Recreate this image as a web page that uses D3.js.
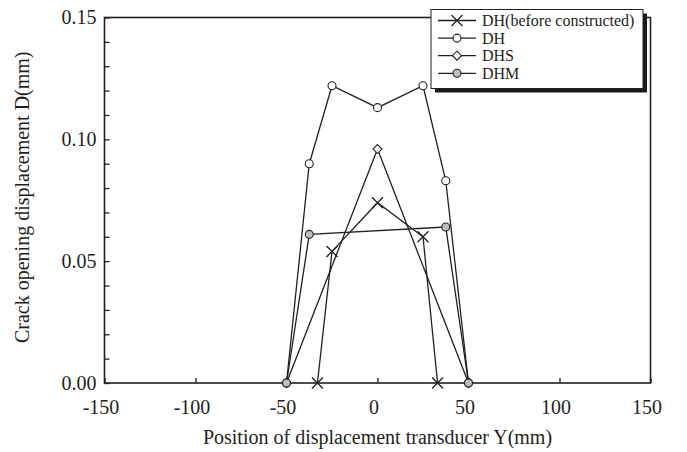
<!DOCTYPE html>
<html>
<head>
<meta charset="utf-8">
<script src="https://cdn.jsdelivr.net/npm/d3@7"></script>
<style>
	body { margin: 0; background: #fff; }
	svg text { font-family: "Liberation Serif", "Times New Roman", serif; fill: #231f20; }
</style>
</head>
<body>
<div id="chart_container"></div>
<script>
// series values (position in mm, COD in mm)
var pos_before = [-33, -25, 0, 25, 33];
var cod_before = [0, 0.054, 0.074, 0.060, 0];

var pos_dh = [-50, -37.5, -25, 0, 25, 37.5, 50];
var cod_dh = [0, 0.090, 0.122, 0.113, 0.122, 0.083, 0];

var pos_dhs = [-50, 0, 50];
var cod_dhs = [0, 0.096, 0];

var pos_dhm = [-50, -37.5, 37.5, 50];
var cod_dhm = [0, 0.061, 0.064, 0];

var series_names = ["DH(before constructed)", "DH", "DHS", "DHM"];
var series_symbols = ["cross", "open", "diamond", "gray"];

// tick labels
var x_ticks = [-150, -100, -50, 0, 50, 100, 150];
var y_ticks = [0, 0.05, 0.10, 0.15];
var y_minor = [0, 0.01, 0.02, 0.03, 0.04, 0.05, 0.06, 0.07, 0.08, 0.09, 0.10, 0.11, 0.12, 0.13, 0.14, 0.15];

var ink = "#231f20";
var svg_w = 687, svg_h = 452;
var plot_l = 104.5, plot_r = 650.5, plot_t = 17.5, plot_b = 383;

var svgContainer = d3.select("#chart_container").append("svg")
	.attr("width", svg_w)
	.attr("height", svg_h);

var x = d3.scaleLinear().domain([-150, 150]).range([plot_l, plot_r]);
var y = d3.scaleLinear().domain([0, 0.15]).range([plot_b, plot_t]);

function drawAxes(){
	//minor ticks on y, inward, no labels
	svgContainer.append("g")
		.attr("transform", "translate(" + plot_l + ",0)")
		.call(d3.axisLeft(y).tickValues(y_minor).tickSizeInner(-5).tickSizeOuter(0).tickFormat(""))
		.call(function(g){ g.select(".domain").remove(); })
		.selectAll("line").attr("stroke", ink).attr("stroke-width", 1.3);

	var gy = svgContainer.append("g")
		.attr("transform", "translate(" + plot_l + ",0)")
		.call(d3.axisLeft(y).tickValues(y_ticks).tickSize(0).tickPadding(8).tickFormat(d3.format(".2f")));
	gy.select(".domain").remove();
	gy.selectAll("text").attr("font-size", 20).attr("font-family", null).attr("fill", ink);

	var gx = svgContainer.append("g")
		.attr("transform", "translate(0," + plot_b + ")")
		.call(d3.axisBottom(x).tickValues(x_ticks).tickSizeInner(-5).tickSizeOuter(0).tickPadding(17)
			.tickFormat(function(d){ return String(d); }));
	gx.select(".domain").remove();
	gx.selectAll("line").attr("stroke", ink).attr("stroke-width", 1.3);
	gx.selectAll("text").attr("font-size", 20).attr("font-family", null).attr("fill", ink)
		.attr("dx", -4);

	//frame
	svgContainer.append("rect")
		.attr("x", plot_l).attr("y", plot_t)
		.attr("width", plot_r - plot_l).attr("height", plot_b - plot_t)
		.attr("fill", "none").attr("stroke", ink).attr("stroke-width", 1.6);

	svgContainer.append("text")
		.attr("x", (plot_l + plot_r) / 2).attr("y", 444)
		.attr("text-anchor", "middle").attr("font-size", 20)
		.text("Position of displacement transducer Y(mm)");

	svgContainer.append("text")
		.attr("transform", "translate(29," + ((plot_t + plot_b) / 2 - 3) + ") rotate(-90)")
		.attr("text-anchor", "middle").attr("font-size", 20)
		.text("Crack opening displacement D(mm)");
}

function addMarker(g, kind, cx, cy){
	if(kind == "cross"){
		var s = 5.5;
		g.append("path")
			.attr("d", "M" + (cx - s) + "," + (cy - s) + "L" + (cx + s) + "," + (cy + s) +
				"M" + (cx - s) + "," + (cy + s) + "L" + (cx + s) + "," + (cy - s))
			.attr("stroke", ink).attr("stroke-width", 1.3);
	}else if(kind == "diamond"){
		var d = 4.5;
		g.append("path")
			.attr("d", "M" + cx + "," + (cy - d) + "L" + (cx + d) + "," + cy + "L" + cx + "," + (cy + d) + "L" + (cx - d) + "," + cy + "Z")
			.attr("fill", "#fff").attr("stroke", ink).attr("stroke-width", 1.1);
	}else{
		g.append("circle")
			.attr("cx", cx).attr("cy", cy).attr("r", 4)
			.attr("fill", kind == "gray" ? "#bdbdbd" : "#fff")
			.attr("stroke", ink).attr("stroke-width", 1.1);
	}
}

function addSeries(xs, ys, kind){
	var pts = xs.map(function(v, i){ return [x(v), y(ys[i])]; });
	var g = svgContainer.append("g");
	g.append("path")
		.attr("d", d3.line()(pts))
		.attr("fill", "none").attr("stroke", ink).attr("stroke-width", 1.3);
	for(var i = 0; i < pts.length; i++){
		addMarker(g, kind, pts[i][0], pts[i][1]);
	}
}

function drawLegend(){
	var bx = 431, by = 9.5, bw = 212, bh = 79;
	//shadow
	svgContainer.append("rect")
		.attr("x", bx + 4).attr("y", by + 4).attr("width", bw).attr("height", bh)
		.attr("fill", "#1a1a1a");
	svgContainer.append("rect")
		.attr("x", bx).attr("y", by).attr("width", bw).attr("height", bh)
		.attr("fill", "#fff").attr("stroke", ink).attr("stroke-width", 1);

	for(var i = 0; i < series_names.length; i++){
		var ly = 20.5 + i * 17.6;
		var g = svgContainer.append("g");
		g.append("line")
			.attr("x1", 438).attr("x2", 476).attr("y1", ly).attr("y2", ly)
			.attr("stroke", ink).attr("stroke-width", 1.3);
		addMarker(g, series_symbols[i], 457, ly);
		g.append("text")
			.attr("x", 482).attr("y", ly + 5.5)
			.attr("font-size", 16)
			.text(series_names[i]);
	}
}

drawAxes();
addSeries(pos_before, cod_before, "cross");
addSeries(pos_dh, cod_dh, "open");
addSeries(pos_dhs, cod_dhs, "diamond");
addSeries(pos_dhm, cod_dhm, "gray");
drawLegend();
</script>
</body>
</html>
